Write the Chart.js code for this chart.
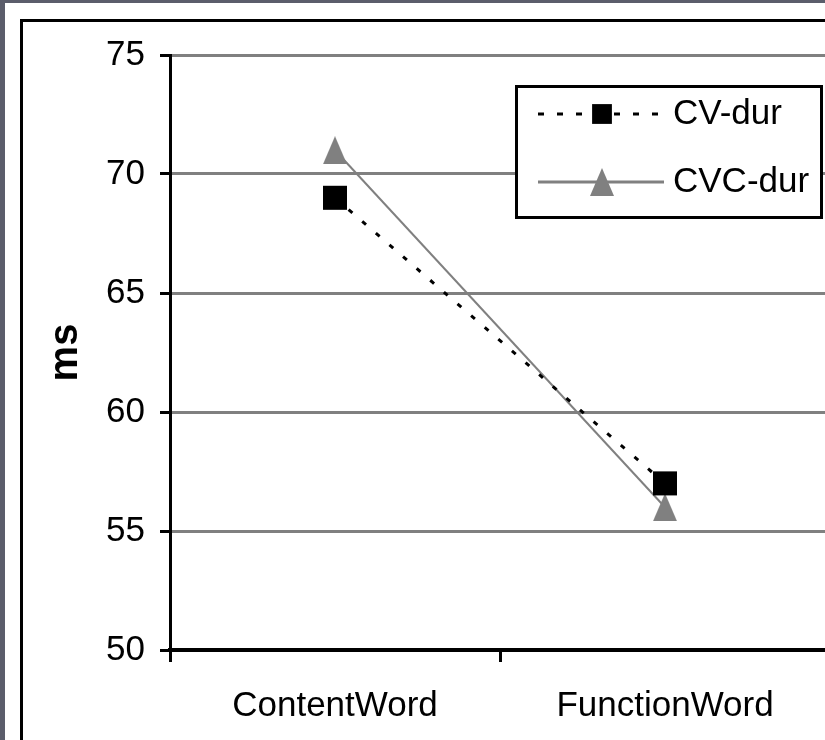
<!DOCTYPE html>
<html>
<head>
<meta charset="utf-8">
<script src="https://cdn.jsdelivr.net/npm/chart.js@4"></script>
<style>
  html, body { margin: 0; padding: 0; background: #fff; overflow: hidden; }
  #wrap { position: relative; width: 840px; height: 740px; overflow: hidden; }
  .band-top { position: absolute; left: 0; top: 0; width: 840px; height: 3px; background: #5b5d6b; }
  .band-left { position: absolute; left: 0; top: 0; width: 5px; height: 740px; background: #5b5d6b; }
  .frame { position: absolute; left: 20px; top: 19px; width: 900px; height: 900px; border: 3px solid #000; }
  canvas { position: absolute; left: 0; top: 0; }
</style>
</head>
<body>
<div id="wrap">
  <div class="band-top"></div>
  <div class="band-left"></div>
  <div class="frame"></div>
  <canvas id="chart" width="840" height="740" style="width:840px;height:740px"></canvas>
</div>
<script>
const categories = ["ContentWord", "FunctionWord"];
const cvDur = [69, 57];
const cvcDur = [71, 56];
const yMin = 50, yMax = 75, yStep = 5;

const FONT = "'Liberation Sans', Arial, sans-serif";
Chart.defaults.color = "#000";
Chart.defaults.font.family = FONT;

// grey triangle marker, a bit taller than wide like the original
const tri = document.createElement("canvas");
tri.width = 24; tri.height = 28;
const tctx = tri.getContext("2d");
tctx.fillStyle = "#808080";
tctx.beginPath();
tctx.moveTo(12, 0); tctx.lineTo(24, 28); tctx.lineTo(0, 28);
tctx.closePath();
tctx.fill();

// boxed legend in the top right corner
const boxLegend = {
  id: "boxLegend",
  afterDraw(chart) {
    const ctx = chart.ctx;
    ctx.save();
    ctx.fillStyle = "#fff";
    ctx.fillRect(516, 86, 306, 131);
    ctx.lineWidth = 3;
    ctx.strokeStyle = "#000";
    ctx.strokeRect(516.5, 86.5, 305, 131);
    const rows = [114, 182];
    chart.data.datasets.forEach((ds, i) => {
      const y = rows[i];
      ctx.beginPath();
      ctx.setLineDash(ds.legendDash || []);
      ctx.lineWidth = 3;
      ctx.strokeStyle = ds.borderColor;
      ctx.moveTo(538, y);
      ctx.lineTo(664, y);
      ctx.stroke();
      ctx.setLineDash([]);
      ctx.fillStyle = ds.pointBackgroundColor;
      Chart.helpers.drawPoint(ctx, { pointStyle: ds.pointStyle, radius: ds.legendRadius, rotation: 0, borderWidth: 0 }, 602, y);
      ctx.fillStyle = "#000";
      ctx.font = "35px " + FONT;
      ctx.textBaseline = "middle";
      ctx.textAlign = "left";
      ctx.fillText(ds.label, 673, y);
    });
    ctx.restore();
  }
};

new Chart(document.getElementById("chart"), {
  type: "line",
  data: {
    labels: categories,
    datasets: [
      {
        label: "CV-dur",
        data: cvDur,
        borderColor: "#000",
        borderWidth: 3,
        borderDash: [5, 13],
        pointStyle: "rect",
        pointRadius: 17,
        pointHoverRadius: 17,
        pointBackgroundColor: "#000",
        pointBorderWidth: 0,
        legendDash: [6, 13],
        legendRadius: 14
      },
      {
        label: "CVC-dur",
        data: cvcDur,
        borderColor: "#808080",
        borderWidth: 2,
        pointStyle: tri,
        pointRadius: 14,
        pointBackgroundColor: "#808080",
        pointBorderWidth: 0,
        legendRadius: 12
      }
    ]
  },
  options: {
    responsive: false,
    animation: false,
    layout: { autoPadding: false, padding: { top: 55, right: 10, bottom: 0, left: 0 } },
    plugins: { legend: { display: false }, tooltip: { enabled: false } },
    scales: {
      x: {
        offset: true,
        ticks: { padding: 23, font: { size: 35 } },
        grid: { offset: true, drawOnChartArea: false, tickLength: 12, tickWidth: 3, tickColor: "#000", color: "#000", lineWidth: 3 },
        border: { color: "#000", width: 4 },
        afterFit(scale) {
          scale.height = 90;
          scale.paddingLeft = 0;
          scale.paddingRight = 0;
        }
      },
      y: {
        min: yMin,
        max: yMax,
        ticks: { stepSize: yStep, padding: 15, font: { size: 35 } },
        grid: {
          color: c => (c.tick && c.tick.value === yMin ? "#000" : "#808080"),
          lineWidth: 3,
          tickColor: "#000",
          tickLength: 10,
          tickWidth: 3
        },
        border: { color: "#000", width: 3 },
        title: { display: true, text: "ms", font: { size: 40, weight: "bold" }, padding: { top: 42, bottom: 0 } },
        afterFit(scale) { scale.width = 170; }
      }
    }
  },
  plugins: [boxLegend]
});
</script>
</body>
</html>
